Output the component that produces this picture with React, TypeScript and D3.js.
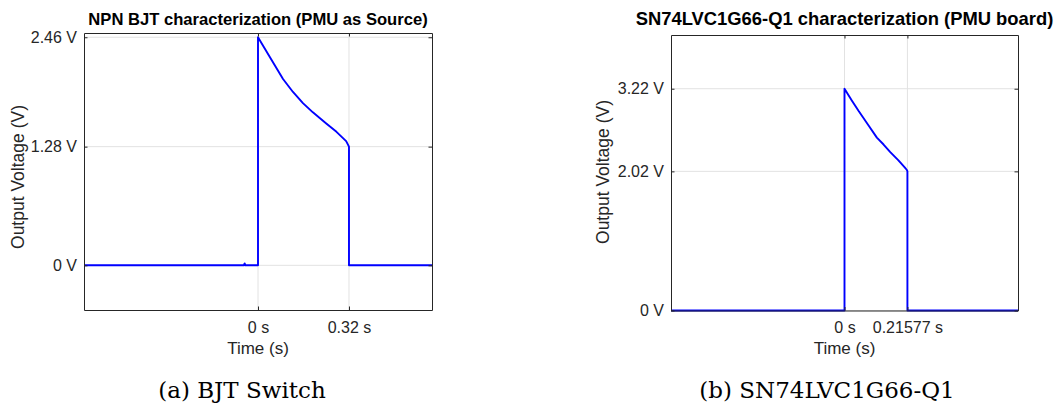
import React, { useEffect, useRef } from 'react';
import * as d3 from 'd3';

// (a) NPN BJT switch
const bjtTime = [-0.612, -0.3, -0.05, -0.047, -0.044, 0, 0, 0.041, 0.088, 0.123, 0.158, 0.193, 0.217, 0.24, 0.276, 0.31, 0.32, 0.32, 0.612];
const bjtVoltage = [0, 0, 0, 0.02, 0, 0, 2.46, 2.25, 2.01, 1.87, 1.75, 1.65, 1.59, 1.53, 1.44, 1.34, 1.28, 0, 0];
const bjtXTicks = [0, 0.32];
const bjtXTickLabels = ['0 s', '0.32 s'];
const bjtYTicks = [0, 1.28, 2.46];
const bjtYTickLabels = ['0 V', '1.28 V', '2.46 V'];

// (b) SN74LVC1G66-Q1 analog switch
const swTime = [-0.595, 0, 0, 0.025, 0.048, 0.082, 0.111, 0.134, 0.157, 0.185, 0.208, 0.214, 0.21577, 0.21577, 0.595];
const swVoltage = [0, 0, 3.22, 3.05, 2.9, 2.69, 2.51, 2.41, 2.3, 2.18, 2.07, 2.04, 2.02, 0, 0];
const swXTicks = [0, 0.21577];
const swXTickLabels = ['0 s', '0.21577 s'];
const swYTicks = [0, 2.02, 3.22];
const swYTickLabels = ['0 V', '2.02 V', '3.22 V'];

const SANS = '"Liberation Sans", Arial, Helvetica, sans-serif';
const SERIF = '"DejaVu Serif", serif';
const AXIS_COLOR = '#262626';

const drawPanel = (svg, p) => {
  const x = d3.scaleLinear().domain(p.xDomain).range([p.left, p.right]);
  const y = d3.scaleLinear().domain(p.yDomain).range([p.bottom, p.top]);
  const g = svg.append('g');

  // grid
  g.append('g')
    .selectAll('line')
    .data(p.xTicks)
    .join('line')
    .attr('x1', (d) => x(d))
    .attr('x2', (d) => x(d))
    .attr('y1', p.top)
    .attr('y2', p.bottom)
    .attr('stroke', '#e2e2e2');
  g.append('g')
    .selectAll('line')
    .data(p.yTicks)
    .join('line')
    .attr('x1', p.left)
    .attr('x2', p.right)
    .attr('y1', (d) => y(d))
    .attr('y2', (d) => y(d))
    .attr('stroke', '#e2e2e2');

  // trace
  const pts = p.time.map((t, i) => [t, p.volt[i]]);
  g.append('path')
    .datum(pts)
    .attr('d', d3.line().x((d) => x(d[0])).y((d) => y(d[1])))
    .attr('fill', 'none')
    .attr('stroke', '#0000ff')
    .attr('stroke-width', 1.9)
    .attr('stroke-linejoin', 'round');

  const fmt = (ticks, labels) => (d) => labels[ticks.indexOf(d)];

  const styleAxis = (sel) => {
    sel.attr('font-family', SANS).attr('font-size', 16);
    sel.select('.domain').attr('stroke', AXIS_COLOR);
    sel.selectAll('.tick line').attr('stroke', AXIS_COLOR);
    sel.selectAll('.tick text').attr('fill', AXIS_COLOR);
  };

  g.append('g')
    .attr('transform', `translate(${p.left},0)`)
    .call(d3.axisLeft(y).tickValues(p.yTicks).tickFormat(fmt(p.yTicks, p.yLabels)).tickSizeInner(-3.5).tickSizeOuter(0).tickPadding(7))
    .call(styleAxis);
  g.append('g')
    .attr('transform', `translate(${p.right},0)`)
    .call(d3.axisRight(y).tickValues(p.yTicks).tickFormat(() => '').tickSizeInner(-3.5).tickSizeOuter(0))
    .call(styleAxis);
  g.append('g')
    .attr('transform', `translate(0,${p.bottom})`)
    .call(d3.axisBottom(x).tickValues(p.xTicks).tickFormat(fmt(p.xTicks, p.xLabels)).tickSizeInner(-3.5).tickSizeOuter(0).tickPadding(11.5))
    .call(styleAxis);
  g.append('g')
    .attr('transform', `translate(0,${p.top})`)
    .call(d3.axisTop(x).tickValues(p.xTicks).tickFormat(() => '').tickSizeInner(-3.5).tickSizeOuter(0))
    .call(styleAxis);

  // title
  g.append('text')
    .attr('x', (p.left + p.right) / 2)
    .attr('y', 25)
    .attr('text-anchor', 'middle')
    .attr('font-family', SANS)
    .attr('font-weight', 'bold')
    .attr('font-size', p.titleSize)
    .text(p.title);

  g.append('text')
    .attr('x', (p.left + p.right) / 2)
    .attr('y', 354)
    .attr('text-anchor', 'middle')
    .attr('font-family', SANS)
    .attr('font-size', 17)
    .attr('fill', AXIS_COLOR)
    .text('Time (s)');

  g.append('text')
    .attr('transform', `translate(${p.yLabelX},${p.yLabelY}) rotate(-90)`)
    .attr('text-anchor', 'middle')
    .attr('font-family', SANS)
    .attr('font-size', 17.5)
    .attr('fill', AXIS_COLOR)
    .text('Output Voltage (V)');

  g.append('text')
    .attr('x', p.captionX)
    .attr('y', 398)
    .attr('text-anchor', 'middle')
    .attr('font-family', SERIF)
    .attr('font-size', 23)
    .text(p.caption);
};

const App = () => {
  const svgRef = useRef(null);

  useEffect(() => {
    document.body.style.margin = '0';
    const svg = d3.select(svgRef.current);
    svg.selectAll('*').remove();

    drawPanel(svg, {
      left: 84, right: 432, top: 33, bottom: 310,
      xDomain: [-0.612, 0.612], yDomain: [-0.482, 2.506],
      time: bjtTime, volt: bjtVoltage,
      xTicks: bjtXTicks, xLabels: bjtXTickLabels,
      yTicks: bjtYTicks, yLabels: bjtYTickLabels,
      title: 'NPN BJT characterization (PMU as Source)', titleSize: 16.6,
      yLabelX: 24, yLabelY: 177,
      caption: '(a) BJT Switch', captionX: 242,
    });

    drawPanel(svg, {
      left: 671, right: 1018, top: 35, bottom: 310.5,
      xDomain: [-0.595, 0.595], yDomain: [0, 4],
      time: swTime, volt: swVoltage,
      xTicks: swXTicks, xLabels: swXTickLabels,
      yTicks: swYTicks, yLabels: swYTickLabels,
      title: 'SN74LVC1G66-Q1 characterization (PMU board)', titleSize: 18.4,
      yLabelX: 609, yLabelY: 172,
      caption: '(b) SN74LVC1G66-Q1', captionX: 827,
    });
  }, []);

  return <svg ref={svgRef} width={1061} height={406} style={{ display: 'block', background: '#fff' }} />;
};

export default App;
